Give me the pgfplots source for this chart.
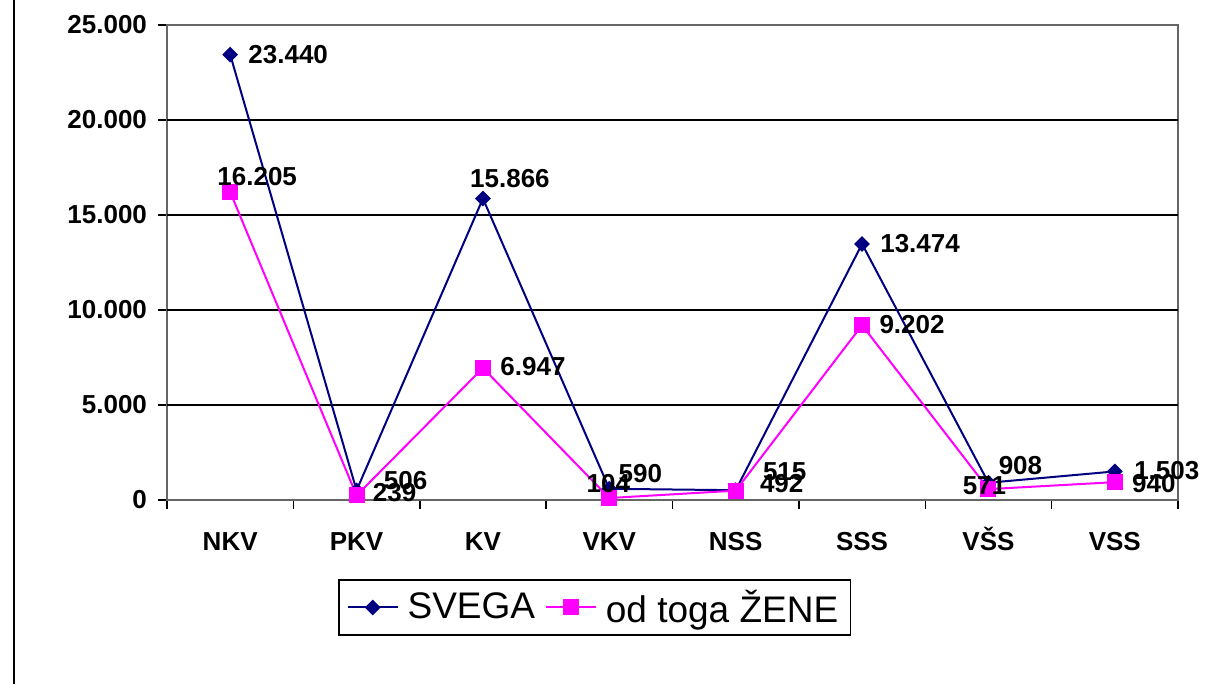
\documentclass[border=0pt]{standalone}
\usepackage{fontspec}
\setmainfont{Liberation Sans}
\usepackage{pgfplots}
\usepackage{pgfplotstable}
\pgfplotsset{compat=1.18}

\definecolor{svega}{RGB}{0,0,128}
\definecolor{zene}{RGB}{255,0,255}

% x = category index, lbl = printed value, dx/dy = label offset in pt
\pgfplotstableread{
x y lbl dx dy
0 23440 23.440 29 0
1 506 506 24.5 5
2 15866 15.866 13.5 10
3 590 590 15.5 7.5
4 515 515 24.5 9.5
5 13474 13.474 29 0
6 908 908 16 8.5
7 1503 1.503 26 0.5
}\svegadata

\pgfplotstableread{
x y lbl dx dy
0 16205 16.205 13.5 8
1 239 239 19 1.5
2 6947 6.947 25 0.5
3 104 104 -0.5 7
4 492 492 23 3.5
5 9202 9.202 25 0.5
6 571 571 -2 1.5
7 940 940 19.5 -0.5
}\zenedata

\pgfplotsset{
    vlabels/.style={
        nodes near coords, point meta=explicit symbolic,
        visualization depends on={\thisrow{dx}\as\lblx},
        visualization depends on={\thisrow{dy}\as\lbly},
        every node near coord/.append style={anchor=center, inner sep=0pt,
            xshift=\lblx pt, yshift=\lbly pt, text=black,
            font=\bfseries\fontsize{13}{15}\selectfont},
    },
}

\begin{document}
\begin{tikzpicture}
\useasboundingbox (-83.5pt,-92pt) rectangle (523pt,250pt);
\draw[black, line width=1.2pt] (-76.5pt,-92pt) -- (-76.5pt,250pt);
\begin{axis}[
    at={(0pt,0pt)}, anchor=south west,
    scale only axis,
    width=505.5pt, height=237.5pt,
    xmin=-0.5, xmax=7.5,
    ymin=0, ymax=25000,
    clip=false,
    axis line style={draw=gray!80!black, line width=0.75pt},
    xtick pos=bottom, ytick pos=left,
    tick align=outside,
    major tick length=4.5pt,
    tick style={black, line width=0.75pt},
    xtick={-0.5,0.5,...,7.5},
    xticklabels={},
    extra x ticks={0,1,2,3,4,5,6,7},
    extra x tick labels={NKV,PKV,KV,VKV,NSS,SSS,VŠS,VSS},
    extra x tick style={major tick length=0pt,
        tick label style={text height=10pt, text depth=0pt, yshift=-11.8pt}},
    ytick={0,5000,...,25000},
    extra y ticks={5000,10000,15000,20000},
    extra y tick labels={},
    extra y tick style={grid=major, major tick length=0pt},
    major grid style={black, line width=1pt},
    tick label style={font=\bfseries\fontsize{13}{15}\selectfont},
    yticklabel style={xshift=-2pt},
    scaled y ticks=false,
    /pgf/number format/.cd, 1000 sep={.}, assume math mode=true, /pgfplots/.cd,
    legend columns=2,
    legend style={
        at={(axis description cs:0.4229,-0.2263)}, anchor=center,
        draw=black, line width=0.75pt,
        font=\fontsize{18.5}{21}\selectfont,
        inner xsep=4pt, inner ysep=3pt,
        /tikz/every odd column/.append style={column sep=2.5pt},
        /tikz/every even column/.append style={column sep=3pt},
    },
    legend image code/.code={
        \draw[mark repeat=2, mark phase=2, #1]
            plot coordinates {(0cm,0cm) (0.4375cm,0cm) (0.875cm,0cm)};
    },
]

\addplot[
    color=svega, line width=1pt,
    mark=square*, mark size=2.3pt, mark options={rotate=45, fill=svega},
    vlabels, forget plot,
] table[x=x, y=y, meta=lbl] {\svegadata};

\addplot[
    color=zene, line width=1pt,
    mark=square*, mark size=3.5pt, mark options={fill=zene},
    vlabels, forget plot,
] table[x=x, y=y, meta=lbl] {\zenedata};

\addlegendimage{color=svega, line width=1pt, mark=square*, mark size=2.3pt,
    mark options={rotate=45, fill=svega}}
\addlegendentry{SVEGA}
\addlegendimage{color=zene, line width=1pt, mark=square*, mark size=3.5pt,
    mark options={fill=zene}}
\addlegendentry{od toga ŽENE\hspace{4pt}}

\end{axis}
\end{tikzpicture}
\end{document}
